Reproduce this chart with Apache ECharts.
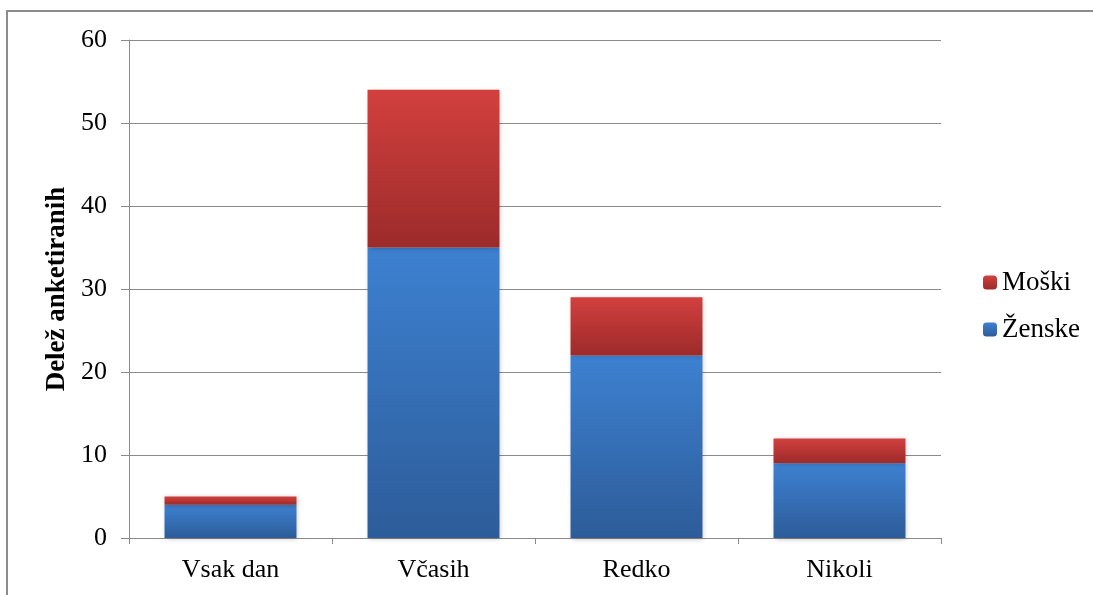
<!DOCTYPE html>
<html>
<head>
<meta charset="utf-8">
<script src="https://cdn.jsdelivr.net/npm/echarts@6/dist/echarts.min.js"></script>
<style>
  html, body { margin: 0; padding: 0; background: #fff; }
  #chart { width: 1093px; height: 595px; }
</style>
</head>
<body>
<div id="chart"></div>
<script>
// Survey answers: share of respondents by frequency, split by gender
const categories = ['Vsak dan', 'Včasih', 'Redko', 'Nikoli'];
const zenske = [4, 35, 22, 9];
const moski = [1, 19, 7, 3];
const yTicks = { min: 0, max: 60, interval: 10 };

const chart = echarts.init(document.getElementById('chart'));

function grad(top, bottom) {
  return new echarts.graphic.LinearGradient(0, 0, 0, 1, [
    { offset: 0, color: top },
    { offset: 1, color: bottom }
  ]);
}

const serif = '"Liberation Serif", "Times New Roman", serif';
const gridColor = '#8a8a8a';

const barStyle = (top, bottom) => ({
  color: grad(top, bottom),
  shadowBlur: 5,
  shadowColor: 'rgba(0,0,0,0.25)',
  shadowOffsetX: 1,
  shadowOffsetY: 1
});

chart.setOption({
  animation: false,
  textStyle: { fontFamily: serif },
  graphic: [{
    type: 'rect',
    shape: { x: 7, y: 11, width: 1300, height: 800 },
    style: { fill: 'none', stroke: '#8c8c8c', lineWidth: 2 },
    silent: true
  }],
  grid: { left: 129, right: 152, top: 40, bottom: 57 },
  legend: {
    data: ['Moški', 'Ženske'],
    orient: 'vertical',
    left: 978,
    top: 264,
    itemWidth: 14,
    itemHeight: 14,
    itemGap: 20,
    textStyle: { fontFamily: serif, fontSize: 27, color: '#000' }
  },
  xAxis: {
    type: 'category',
    data: categories,
    axisLine: { lineStyle: { color: gridColor, width: 1 } },
    axisTick: { show: true, length: 6, lineStyle: { color: gridColor } },
    axisLabel: { color: '#000', fontSize: 26, margin: 19, fontFamily: serif }
  },
  yAxis: {
    type: 'value',
    min: yTicks.min,
    max: yTicks.max,
    interval: yTicks.interval,
    name: 'Delež anketiranih',
    nameLocation: 'middle',
    nameGap: 55,
    nameTextStyle: { fontSize: 27, fontWeight: 'bold', color: '#000', fontFamily: serif },
    axisLine: { show: true, lineStyle: { color: gridColor, width: 1 } },
    axisTick: { show: true, length: 8, lineStyle: { color: gridColor } },
    axisLabel: { color: '#000', fontSize: 26, margin: 22, fontFamily: serif },
    splitLine: { lineStyle: { color: gridColor, width: 1 } }
  },
  series: [
    {
      name: 'Ženske',
      type: 'bar',
      stack: 'total',
      barCategoryGap: '35%',
      data: zenske,
      itemStyle: barStyle('#3d81d1', '#2d5c99')
    },
    {
      name: 'Moški',
      type: 'bar',
      stack: 'total',
      barCategoryGap: '35%',
      data: moski,
      itemStyle: barStyle('#d2403e', '#9c2b2a')
    }
  ]
});
</script>
</body>
</html>
